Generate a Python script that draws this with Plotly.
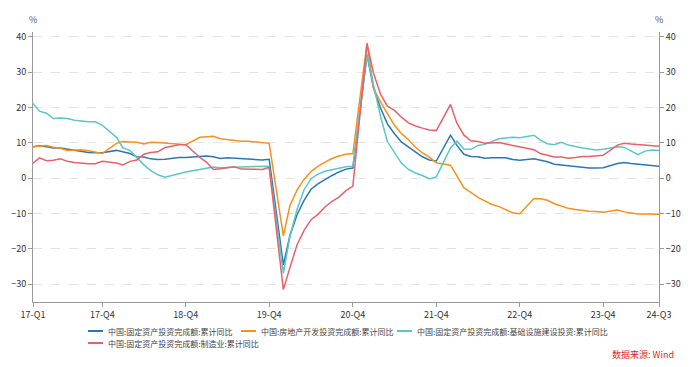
import plotly.graph_objects as go

# ---- data (monthly cumulative YoY, Jan merged into Feb) ----
years = [2017, 2018, 2019, 2020, 2021, 2022, 2023, 2024]
last_month_2024 = 8

fai_total = [
    8.9, 9.2, 8.9, 8.6, 8.6, 8.3, 7.8, 7.5, 7.3, 7.2, 7.2,
    7.9, 7.5, 7.0, 6.1, 6.0, 5.5, 5.3, 5.4, 5.7, 5.9, 5.9,
    6.1, 6.3, 6.1, 5.6, 5.8, 5.7, 5.5, 5.4, 5.2, 5.2, 5.4,
    -24.5, -16.1, -10.3, -6.3, -3.1, -1.6, -0.3, 0.8, 1.8, 2.6, 2.9,
    35.0, 25.6, 19.9, 15.4, 12.6, 10.3, 8.9, 7.3, 6.1, 5.2, 4.9,
    12.2, 9.3, 6.8, 6.2, 6.1, 5.7, 5.8, 5.9, 5.8, 5.3, 5.1,
    5.5, 5.1, 4.7, 4.0, 3.8, 3.4, 3.2, 3.1, 2.9, 2.9, 3.0,
    4.2, 4.5, 4.2, 4.0, 3.9, 3.6, 3.4,
]
real_estate = [
    8.9, 9.1, 9.3, 8.8, 8.5, 7.9, 7.9, 8.1, 7.8, 7.5, 7.0,
    9.9, 10.4, 10.3, 10.2, 9.7, 10.2, 10.1, 9.9, 9.7, 9.7, 9.5,
    11.6, 11.8, 11.9, 11.2, 10.9, 10.6, 10.5, 10.5, 10.3, 10.2, 9.9,
    -16.3, -7.7, -3.3, -0.3, 1.9, 3.4, 4.6, 5.6, 6.3, 6.8, 7.0,
    38.3, 25.6, 21.6, 18.3, 15.0, 12.7, 10.9, 8.8, 7.2, 6.0, 4.4,
    3.7, 0.7, -2.7, -4.0, -5.4, -6.4, -7.4, -8.0, -8.8, -9.8, -10.0,
    -5.7, -5.8, -6.2, -7.2, -7.9, -8.5, -8.8, -9.1, -9.3, -9.4, -9.6,
    -9.0, -9.5, -9.8, -10.1, -10.1, -10.2, -10.2,
]
infrastructure = [
    21.2, 19.0, 18.4, 16.9, 17.1, 16.9, 16.4, 16.1, 16.0, 16.0, 15.0,
    11.6, 8.6, 7.9, 5.8, 3.8, 2.2, 1.0, 0.3, 0.9, 1.3, 1.8,
    2.6, 3.0, 3.2, 3.0, 3.0, 3.1, 3.2, 3.3, 3.3, 3.4, 3.4,
    -26.9, -16.4, -8.8, -3.3, -0.1, 1.2, 2.0, 2.4, 3.0, 3.3, 3.4,
    35.0, 26.5, 17.5, 10.4, 7.2, 4.3, 2.5, 1.5, 0.8, -0.2, 0.4,
    8.6, 10.5, 8.3, 8.2, 9.3, 9.6, 10.4, 11.2, 11.4, 11.6, 11.5,
    12.2, 10.8, 9.8, 9.5, 10.2, 9.4, 8.9, 8.6, 8.3, 8.0, 8.2,
    8.9, 8.8, 7.8, 6.7, 7.7, 8.0, 7.9,
]
manufacturing = [
    4.3, 5.8, 5.0, 5.1, 5.5, 4.8, 4.5, 4.2, 4.1, 4.1, 4.8,
    4.3, 3.8, 4.8, 5.2, 6.8, 7.3, 7.5, 8.7, 9.1, 9.5, 9.5,
    5.9, 4.6, 2.5, 2.7, 3.0, 3.3, 2.6, 2.5, 2.6, 2.5, 3.1,
    -31.5, -25.2, -18.8, -14.8, -11.7, -10.2, -8.1, -6.5, -5.3, -3.5, -2.2,
    38.0, 29.8, 23.8, 20.4, 19.2, 17.3, 15.7, 14.8, 14.2, 13.7, 13.5,
    20.9, 15.6, 12.2, 10.6, 10.4, 9.9, 10.0, 10.1, 9.7, 9.3, 9.1,
    8.1, 7.0, 6.4, 6.0, 6.0, 5.7, 5.9, 6.2, 6.2, 6.3, 6.5,
    9.4, 9.9, 9.7, 9.6, 9.5, 9.3, 9.1,
]

series_names = [
    "中国:固定资产投资完成额:累计同比",
    "中国:房地产开发投资完成额:累计同比",
    "中国:固定资产投资完成额:基础设施建设投资:累计同比",
    "中国:固定资产投资完成额:制造业:累计同比",
]
series_colors = ["#2b78b0", "#f7901e", "#5cc6c4", "#e8606a"]

tick_dates = ["2017-02-01", "2017-12-01", "2018-12-01", "2019-12-01", "2020-12-01",
              "2021-12-01", "2022-12-01", "2023-12-01", "2024-08-01"]
tick_labels = ["17-Q1", "17-Q4", "18-Q4", "19-Q4", "20-Q4", "21-Q4", "22-Q4", "23-Q4", "24-Q3"]
y_ticks = [-30, -20, -10, 0, 10, 20, 30, 40]

dates = []
for yr in years:
    last = last_month_2024 if yr == 2024 else 12
    for m in range(2, last + 1):
        dates.append(f"{yr}-{m:02d}-01")

FONT = "Noto Sans CJK SC, Microsoft YaHei, sans-serif"
W, H = 693, 367
L, R, T, B = 33, 34, 32, 65
PW, PH = W - L - R, H - T - B


def px2x(px):
    return (px - L) / PW


def px2y(py):
    return (H - B - py) / PH


fig = go.Figure()
for name, vals, col in zip(series_names,
                           [fai_total, real_estate, infrastructure, manufacturing],
                           series_colors):
    fig.add_trace(go.Scatter(x=dates, y=vals, mode="lines", name=name,
                             line=dict(color=col, width=1.5), showlegend=False))

axis_col = "#9a9a9a"
yr = [-35, 41.4]
fig.update_layout(
    width=W, height=H,
    margin=dict(l=L, r=R, t=T, b=B),
    paper_bgcolor="white", plot_bgcolor="white",
    font=dict(family=FONT, size=9, color="#333"),
    xaxis=dict(type="date", range=[dates[0], dates[-1]], tickvals=tick_dates,
               ticktext=tick_labels, showgrid=False, showline=True, linecolor=axis_col,
               linewidth=1, ticks="outside", ticklen=4, tickcolor=axis_col,
               tickfont=dict(size=9, color="#333"), zeroline=False),
    yaxis=dict(range=yr, tickvals=y_ticks, showline=True, linecolor=axis_col, linewidth=1,
               ticks="outside", ticklen=4, tickcolor=axis_col, showgrid=True,
               gridcolor="#e3e3e3", griddash="dash", gridwidth=1, zeroline=False,
               tickfont=dict(size=9, color="#333")),
    yaxis2=dict(range=yr, tickvals=y_ticks, overlaying="y", side="right", showline=True,
                linecolor=axis_col, linewidth=1, ticks="outside", ticklen=4,
                tickcolor=axis_col, showgrid=False, zeroline=False,
                tickfont=dict(size=9, color="#333")),
)
# invisible trace so the right axis renders
fig.add_trace(go.Scatter(x=[dates[0]], y=[0], yaxis="y2", mode="markers",
                         marker=dict(opacity=0), showlegend=False, hoverinfo="skip"))

annotations = [
    dict(text="%", x=px2x(33), y=px2y(20), xref="paper", yref="paper", showarrow=False,
         font=dict(size=9, color="#555"), xanchor="center", yanchor="middle"),
    dict(text="%", x=px2x(659), y=px2y(20), xref="paper", yref="paper", showarrow=False,
         font=dict(size=9, color="#555"), xanchor="center", yanchor="middle"),
    dict(text="数据来源: Wind", x=px2x(676), y=px2y(354), xref="paper", yref="paper",
         showarrow=False, font=dict(size=9, color="#e0262b"), xanchor="right",
         yanchor="middle"),
]
shapes = []
legend_pos = [(88, 331), (241, 331), (397, 331), (88, 343)]
for (lx, ly), name, col in zip(legend_pos, series_names, series_colors):
    shapes.append(dict(type="line", xref="paper", yref="paper", x0=px2x(lx), x1=px2x(lx + 15),
                       y0=px2y(ly), y1=px2y(ly), line=dict(color=col, width=2)))
    annotations.append(dict(text=name, x=px2x(lx + 18), y=px2y(ly), xref="paper", yref="paper",
                            showarrow=False, font=dict(size=8, color="#444"),
                            xanchor="left", yanchor="middle"))
fig.update_layout(annotations=annotations, shapes=shapes)

fig.write_html("out.html", config={"displayModeBar": False},
               post_script="document.body.style.margin='0';document.body.style.overflow='hidden';")
